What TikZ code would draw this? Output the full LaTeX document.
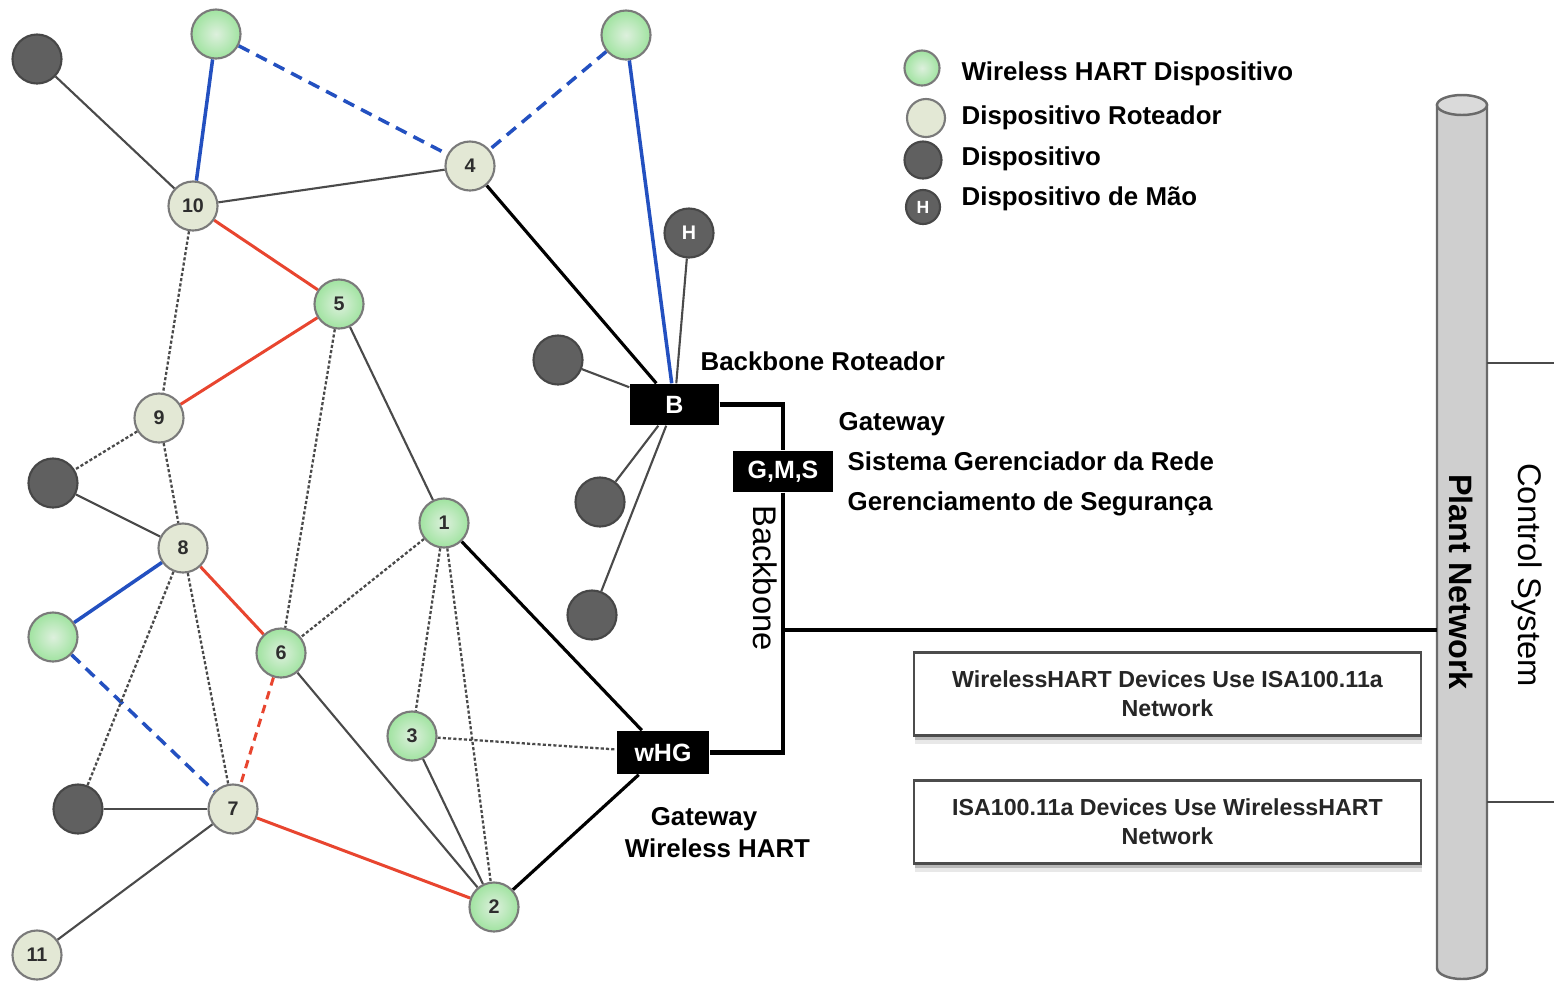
\documentclass[tikz,border=0pt]{standalone}
\usepackage{fontspec}
\setmainfont{Liberation Sans}
\usetikzlibrary{backgrounds,shadows}

\definecolor{wgreen}{HTML}{A0E3A0}
\definecolor{wgreenc}{HTML}{DDF0DD}
\definecolor{rcream}{HTML}{E3E8D5}
\definecolor{ddark}{HTML}{606060}
\definecolor{eblue}{HTML}{2350C0}
\definecolor{ered}{HTML}{E8452F}
\definecolor{egray}{HTML}{4A4A4A}
\definecolor{rim}{HTML}{7A7A7A}
\definecolor{pipefill}{HTML}{CFCFCF}
\definecolor{pipetop}{HTML}{DADADA}
\definecolor{pipeedge}{HTML}{6A6A6A}

\newcommand\setfs[1]{\fontsize{#1pt}{#1pt}\selectfont}

\begin{document}
\begin{tikzpicture}[x=0.01cm, y=-0.01cm,
  base/.style={circle, inner sep=0pt, draw=rim, line width=0.6pt,
    minimum size=0.49cm, font=\bfseries\setfs{5.6}, text=black!82},
  wh/.style={base, shading=radial, inner color=wgreenc, outer color=wgreen},
  rt/.style={base, fill=rcream},
  dv/.style={base, fill=ddark, draw=black!72},
  hh/.style={dv, text=white!92},
  gw/.style={fill=black, text=white, inner sep=0pt, font=\bfseries\setfs{7.1}},
  lbl/.style={inner sep=0pt, font=\bfseries\setfs{7.35}},
  note/.style={draw=black!70, line width=0.6pt, fill=white, inner sep=0pt,
    minimum width=5.07cm, minimum height=0.83cm, align=center,
    font=\bfseries\fontsize{6.6pt}{8.3pt}\selectfont, text=black!85,
    drop shadow={shadow xshift=0.3pt, shadow yshift=-2.4pt, opacity=0.18},
    drop shadow={shadow xshift=0.2pt, shadow yshift=-1.3pt, opacity=0.45}},
  plain/.style={draw=egray, line width=0.6pt},
  strong/.style={draw=black, line width=0.9pt},
  bl/.style={draw=eblue, line width=1pt},
  bld/.style={bl, dash pattern=on 3.4pt off 2.2pt},
  rd/.style={draw=ered, line width=0.85pt},
  rdd/.style={rd, dash pattern=on 2.4pt off 1.7pt},
  dot/.style={draw=egray, line width=0.65pt, dash pattern=on 0.9pt off 0.6pt},
  bb/.style={draw=black, line width=1.35pt},
  ctl/.style={draw=egray, line width=0.45pt}]

\useasboundingbox (0,0) rectangle (1554,981);

% ---------- plant network pipe ----------
\path[draw=pipeedge, fill=pipefill, line width=0.7pt]
  (1437,105) -- (1437,968) arc[start angle=180, end angle=0, x radius=25, y radius=11]
  -- (1487,105) -- cycle;
\path[draw=pipeedge, fill=pipetop, line width=0.7pt] (1462,105) ellipse[x radius=25, y radius=10];
\draw[ctl] (1487,363) -- (1554,363);
\draw[ctl] (1487,802) -- (1554,802);
\node[rotate=-90, inner sep=0pt, font=\bfseries\setfs{9.2}] (pn) at (1461,582) {Plant Network};
\node[rotate=-90, inner sep=0pt, font=\setfs{9.3}] (cs) at (1527,575) {Control System};

% ---------- mesh devices ----------
\node[dv] (da) at (37,59) {};
\node[wh] (ga) at (216,34) {};
\node[wh] (gb) at (626,35) {};
\node[rt] (n10) at (193,206) {10};
\node[rt] (n4) at (470,166) {4};
\node[hh] (h) at (689,233) {H};
\node[wh] (n5) at (339,304) {5};
\node[dv] (dm) at (558,360) {};
\node[rt] (n9) at (159,418) {9};
\node[dv] (dl) at (53,483) {};
\node[wh] (n1) at (444,523) {1};
\node[dv] (db) at (600,502) {};
\node[rt] (n8) at (183,548) {8};
\node[wh] (gl) at (53,637) {};
\node[wh] (n6) at (281,653) {6};
\node[dv] (dc) at (592,615) {};
\node[wh] (n3) at (412,736) {3};
\node[dv] (dd) at (78,809) {};
\node[rt] (n7) at (233,809) {7};
\node[wh] (n2) at (494,907) {2};
\node[rt] (n11) at (37,955) {11};

% ---------- gateways ----------
\node[gw, minimum width=0.89cm, minimum height=0.41cm] (B) at (674.5,404.5) {B};
\node[gw, minimum width=0.99cm, minimum height=0.41cm] (G) at (783,471.5) {G,M,S};
\node[gw, minimum width=0.92cm, minimum height=0.43cm] (W) at (663,752.5) {wHG};

% ---------- wired backbone ----------
\coordinate (jy) at (0,630);
\coordinate (bj) at (G.south |- jy);
\coordinate (pj) at (1437,630);
\draw[bb] (B.east) -| (G.north);
\draw[bb] (G.south) |- (W.east);
\draw[bb] (bj) -- (pj);
\node[rotate=-90, inner sep=0pt, font=\setfs{9.3}] (bbl) at (765,578) {Backbone};

% ---------- wireless links ----------
\begin{scope}[on background layer]
  \draw[plain] (da) -- (n10);
  \draw[plain] (n10) -- (n4);
  \draw[plain] (n5) -- (n1);
  \draw[plain] (dm) -- (B);
  \draw[plain] (h) -- (B);
  \draw[plain] (B) -- (db);
  \draw[plain] (B) -- (dc);
  \draw[plain] (dl) -- (n8);
  \draw[plain] (n6) -- (n2);
  \draw[plain] (n3) -- (n2);
  \draw[plain] (dd) -- (n7);
  \draw[plain] (n7) -- (n11);
  \draw[strong] (n4) -- (B);
  \draw[strong] (n1) -- (W);
  \draw[strong] (n2) -- (W);
  \draw[bl] (ga) -- (n10);
  \draw[bl] (gb) -- (B);
  \draw[bl] (n8) -- (gl);
  \draw[bld] (ga) -- (n4);
  \draw[bld] (gb) -- (n4);
  \draw[bld] (gl) -- (n7);
  \draw[rd] (n10) -- (n5);
  \draw[rd] (n5) -- (n9);
  \draw[rd] (n8) -- (n6);
  \draw[rd] (n7) -- (n2);
  \draw[rdd] (n6) -- (n7);
  \draw[dot] (n10) -- (n9);
  \draw[dot] (n5) -- (n6);
  \draw[dot] (n9) -- (dl);
  \draw[dot] (n9) -- (n8);
  \draw[dot] (n8) -- (dd);
  \draw[dot] (n8) -- (n7);
  \draw[dot] (n1) -- (n6);
  \draw[dot] (n1) -- (n3);
  \draw[dot] (n1) -- (n2);
  \draw[dot] (n3) -- (W);
\end{scope}

% ---------- labels ----------
\node[lbl, anchor=base west] (tbr) at (700,370) {Backbone Roteador};
\node[lbl, anchor=base west] (tgw) at (838,430) {Gateway};
\node[lbl, anchor=base west] (tsg) at (847,470) {Sistema Gerenciador da Rede};
\node[lbl, anchor=base west] (tgs) at (847,510) {Gerenciamento de Segurança};
\node[lbl, anchor=base] (twa) at (704,825) {Gateway};
\node[lbl, anchor=base] (twb) at (717.5,857) {Wireless HART};

% ---------- legend ----------
\node[wh, minimum size=0.35cm] (lg1) at (922,68) {};
\node[rt, minimum size=0.38cm] (lg2) at (926,118) {};
\node[dv, minimum size=0.37cm] (lg3) at (923,160) {};
\node[hh, minimum size=0.34cm, font=\bfseries\setfs{5}] (lg4) at (923,207) {H};
\node[lbl, anchor=base west] (lt1) at (961,80) {Wireless HART Dispositivo};
\node[lbl, anchor=base west] (lt2) at (961,124) {Dispositivo Roteador};
\node[lbl, anchor=base west] (lt3) at (961,165) {Dispositivo};
\node[lbl, anchor=base west] (lt4) at (961,205) {Dispositivo de Mão};

% ---------- notes ----------
\node[note] (nb1) at (1167.5,694) {WirelessHART Devices Use ISA100.11a\\Network};
\node[note] (nb2) at (1167.5,822) {ISA100.11a Devices Use WirelessHART\\Network};

\end{tikzpicture}
\end{document}
